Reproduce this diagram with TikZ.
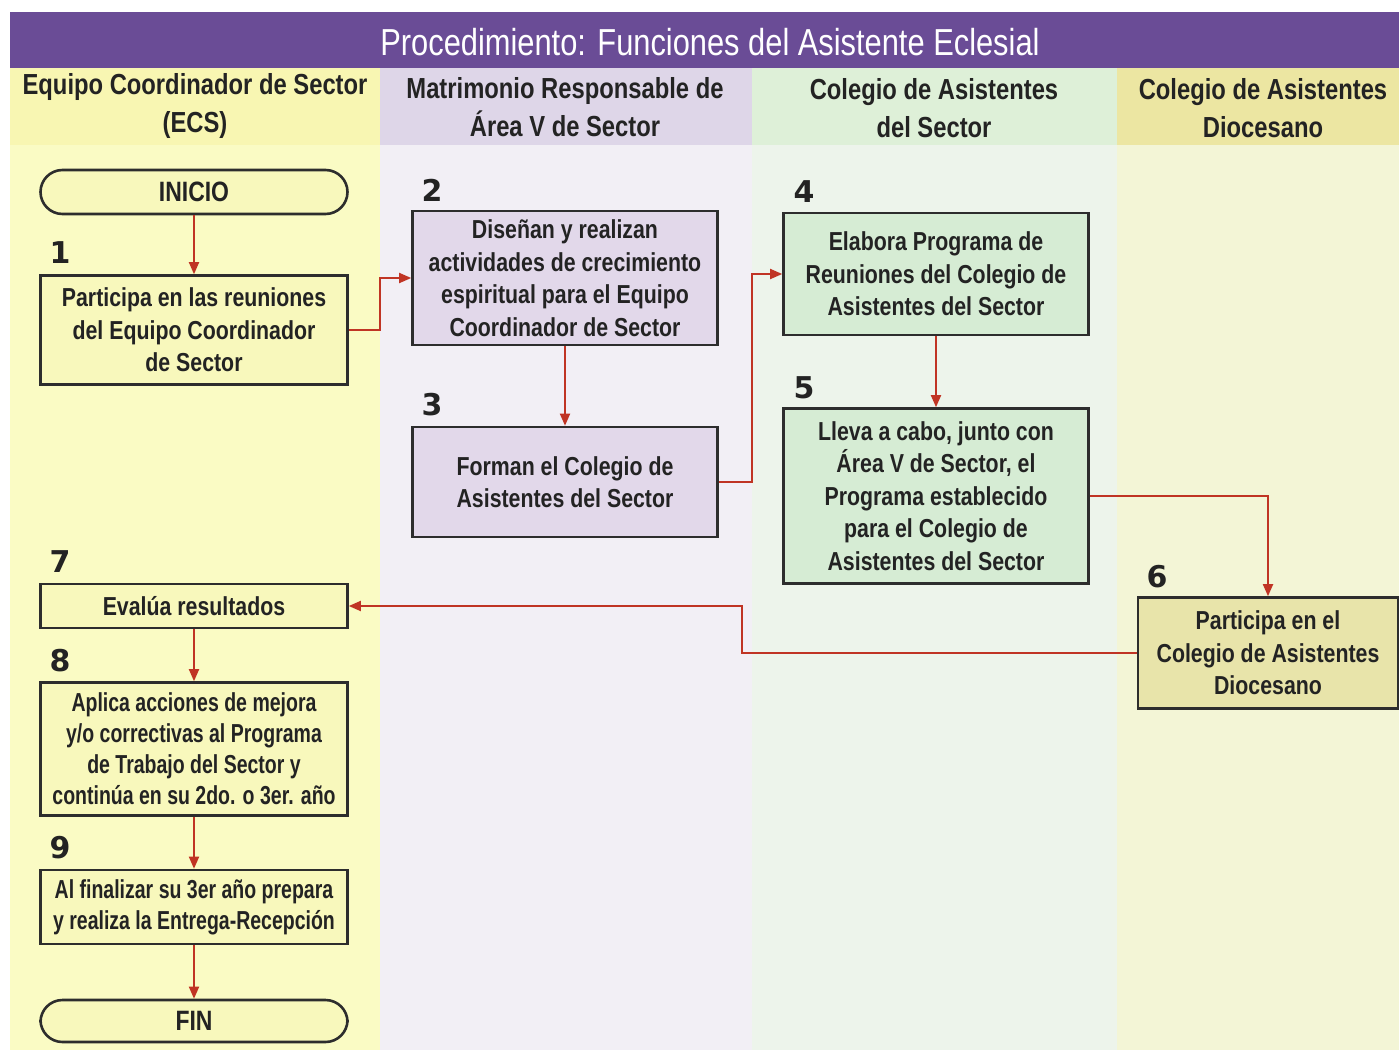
\documentclass[tikz,border=0pt]{standalone}
\usepackage{fontspec}
\setmainfont{Liberation Sans}[FakeStretch=0.82]
\newfontfamily\narrowfont{Liberation Sans}[FakeStretch=0.75]
\newfontfamily\numfont{DejaVu Sans}
\usetikzlibrary{arrows.meta}
\definecolor{titlepurple}{RGB}{106,76,150}
\definecolor{laneAh}{RGB}{248,246,178}
\definecolor{laneA}{RGB}{250,251,196}
\definecolor{laneBh}{RGB}{222,214,232}
\definecolor{laneB}{RGB}{242,239,245}
\definecolor{laneCh}{RGB}{222,240,216}
\definecolor{laneC}{RGB}{237,244,235}
\definecolor{laneDh}{RGB}{236,230,162}
\definecolor{laneD}{RGB}{243,245,214}
\definecolor{fillA}{RGB}{248,248,188}
\definecolor{fillB}{RGB}{226,216,234}
\definecolor{fillC}{RGB}{214,236,212}
\definecolor{fillD}{RGB}{232,228,170}
\definecolor{edge}{RGB}{45,45,45}
\definecolor{txt}{RGB}{35,35,35}
\definecolor{arrowred}{RGB}{192,52,36}
\tikzset{
  stepbox/.style={draw=edge, line width=1.3pt, text=txt, align=center,
    font=\bfseries\fontsize{13}{16.25}\selectfont, inner sep=2pt},
  narrowbox/.style={stepbox, font=\narrowfont\bfseries\fontsize{13}{15.5}\selectfont},
  termbox/.style={stepbox, rounded corners=11pt, font=\bfseries\fontsize{14}{16}\selectfont},
  stepnum/.style={font=\numfont\bfseries\fontsize{15}{15}\selectfont, text=txt},
  lanehead/.style={font=\bfseries\fontsize{14.5}{19}\selectfont, text=txt, align=center},
  arr/.style={draw=arrowred, line width=0.9pt, -{Triangle[length=6pt,width=5pt]}}
}
\begin{document}
\begin{tikzpicture}[x=0.5pt,y=-0.5pt]
\useasboundingbox (0,0) rectangle (1399,1050);
\fill[white] (0,0) rectangle (1399,1050);
% lanes
\fill[laneA] (10,145) rectangle (380,1050);
\fill[laneB] (380,145) rectangle (752,1050);
\fill[laneC] (752,145) rectangle (1117,1050);
\fill[laneD] (1117,145) rectangle (1399,1050);
\fill[laneAh] (10,68) rectangle (380,145);
\fill[laneBh] (380,68) rectangle (752,145);
\fill[laneCh] (752,68) rectangle (1117,145);
\fill[laneDh] (1117,68) rectangle (1399,145);
\fill[titlepurple] (10,12) rectangle (1399,68);
\node[font=\fontsize{18.8}{19}\selectfont, text=white] (title) at (710,42) {Procedimiento: Funciones del Asistente Eclesial};
\node[lanehead] (hA) at (195,106) {Equipo Coordinador de Sector\\(ECS)};
\node[lanehead] (hB) at (565,107) {Matrimonio Responsable de\\Área V de Sector};
\node[lanehead] (hC) at (934,108) {Colegio de Asistentes\\del Sector};
\node[lanehead] (hD) at (1263,108) {Colegio de Asistentes\\Diocesano};
% nodes
\node[termbox, fill=fillA, minimum width=153.5pt, minimum height=22pt] (ini) at (194,192) {INICIO};
\node[stepbox, fill=fillA, minimum width=153.5pt, minimum height=54.5pt] (b1) at (194,330) {Participa en las reuniones\\del Equipo Coordinador\\de Sector};
\node[stepbox, fill=fillB, minimum width=152.5pt, minimum height=67pt] (b2) at (565,278) {Diseñan y realizan\\actividades de crecimiento\\espiritual para el Equipo\\Coordinador de Sector};
\node[stepbox, fill=fillB, minimum width=152.5pt, minimum height=55pt] (b3) at (565,482) {Forman el Colegio de\\Asistentes del Sector};
\node[stepbox, fill=fillC, minimum width=152.5pt, minimum height=61pt] (b4) at (936,274) {Elabora Programa de\\Reuniones del Colegio de\\Asistentes del Sector};
\node[stepbox, fill=fillC, minimum width=152.5pt, minimum height=87.5pt] (b5) at (936,496) {Lleva a cabo, junto con\\Área V de Sector, el\\Programa establecido\\para el Colegio de\\Asistentes del Sector};
\node[stepbox, fill=fillD, minimum width=130pt, minimum height=55.5pt] (b6) at (1268,653) {Participa en el\\Colegio de Asistentes\\Diocesano};
\node[stepbox, fill=fillA, minimum width=153.5pt, minimum height=22pt] (b7) at (194,606) {Evalúa resultados};
\node[narrowbox, fill=fillA, minimum width=153.5pt, minimum height=66.5pt] (b8) at (194,749) {Aplica acciones de mejora\\y/o correctivas al Programa\\de Trabajo del Sector y\\continúa en su 2do. o 3er. año};
\node[narrowbox, fill=fillA, minimum width=153.5pt, minimum height=37pt] (b9) at (194,907) {Al finalizar su 3er año prepara\\y realiza la Entrega-Recepción};
\node[termbox, fill=fillA, minimum width=153.5pt, minimum height=21pt] (fin) at (194,1021) {FIN};
% step numbers
\node[stepnum] (n1) at (60,253) {1};
\node[stepnum] (n2) at (432,190) {2};
\node[stepnum] (n3) at (432,405) {3};
\node[stepnum] (n4) at (804,192) {4};
\node[stepnum] (n5) at (804,388) {5};
\node[stepnum] (n6) at (1157,577) {6};
\node[stepnum] (n7) at (60,562) {7};
\node[stepnum] (n8) at (60,661) {8};
\node[stepnum] (n9) at (60,848) {9};
% connectors
\coordinate (k1) at (380,0);
\coordinate (k3) at (752,0);
\coordinate (k6) at (742,0);
\draw[arr] (ini) -- (b1);
\draw[arr] (b1.east) -- (b1.east -| k1) |- (b2.west);
\draw[arr] (b2) -- (b3);
\draw[arr] (b3.east) -- (b3.east -| k3) |- (b4.west);
\draw[arr] (b4) -- (b5);
\draw[arr] (b5.east) -| (b6.north);
\draw[arr] (b6.west) -- (b6.west -| k6) |- (b7.east);
\draw[arr] (b7) -- (b8);
\draw[arr] (b8) -- (b9);
\draw[arr] (b9) -- (fin);
\end{tikzpicture}
\end{document}
